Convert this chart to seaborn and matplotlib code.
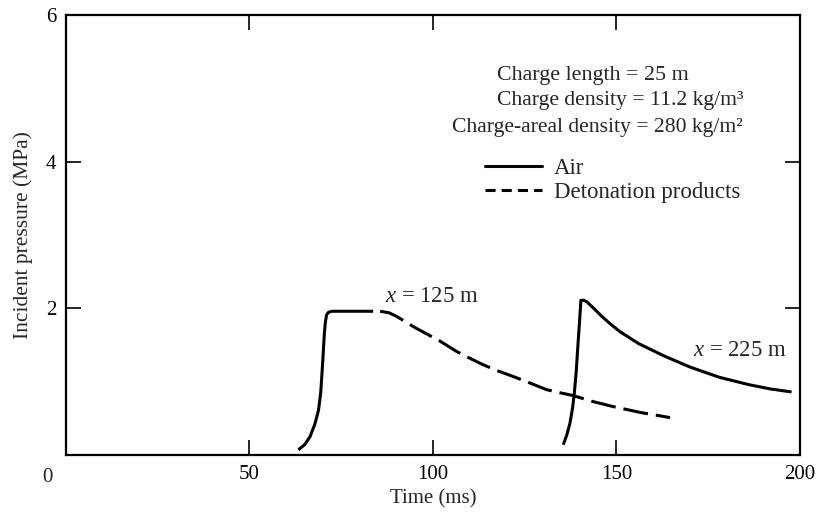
import matplotlib
matplotlib.use("Agg")
import matplotlib.pyplot as plt
from matplotlib.lines import Line2D
import seaborn as sns
import pandas as pd

# ---- data ----
air1_time = [63.3, 65.0, 66.5, 67.8, 68.8, 69.4, 69.7, 70.1, 70.4, 70.7, 71.0, 71.5, 72.4, 75.0, 78.0, 81.0, 83.7]
air1_pres = [0.07, 0.14, 0.25, 0.42, 0.61, 0.85, 1.07, 1.40, 1.66, 1.82, 1.91, 1.945, 1.96, 1.96, 1.96, 1.96, 1.96]

det_time = [85.6, 88.0, 90.1, 92.4, 95.0, 98.7, 102.0, 106.5, 110.0, 113.7, 117.5, 121.9, 126.5, 131.0, 134.5, 138.2, 143.5, 149.1, 156.5, 164.6]
det_pres = [1.96, 1.94, 1.89, 1.82, 1.74, 1.64, 1.55, 1.41, 1.32, 1.23, 1.15, 1.07, 0.98, 0.89, 0.85, 0.81, 0.73, 0.66, 0.58, 0.51]

air2_time = [135.5, 136.5, 137.3, 138.0, 138.5, 139.0, 139.4, 139.9, 140.3, 141.0, 141.9, 144.0, 146.0, 148.5, 151.0, 156.0, 163.0, 170.0, 178.0, 186.0, 192.0, 197.7]
air2_pres = [0.14, 0.28, 0.43, 0.63, 0.84, 1.12, 1.43, 1.80, 2.11, 2.11, 2.09, 1.99, 1.89, 1.78, 1.68, 1.52, 1.35, 1.20, 1.06, 0.96, 0.90, 0.86]

x_ticks = [0, 50, 100, 150, 200]
x_labels = ["", "50", "100", "150", "200"]
y_ticks = [0, 2, 4, 6]
y_labels = ["", "2", "4", "6"]

info_lines = ["Charge length = 25 m",
              "Charge density = 11.2 kg/m³",
              "Charge-areal density = 280 kg/m²"]
legend_labels = ["Air", "Detonation products"]
curve_labels = ["$x$ = 125 m", "$x$ = 225 m"]

sns.set_theme(style="ticks")
plt.rcParams["font.family"] = ["Liberation Serif", "DejaVu Serif"]
plt.rcParams["mathtext.fontset"] = "custom"
plt.rcParams["mathtext.rm"] = "Liberation Serif"
plt.rcParams["mathtext.it"] = "Liberation Serif:italic"

fig = plt.figure(figsize=(8.2, 5.16), dpi=100)
ax = fig.add_axes([66 / 820, 61 / 516, 734 / 820, 440 / 516])

lw = 2.2
df1 = pd.DataFrame({"t": air1_time, "p": air1_pres})
df2 = pd.DataFrame({"t": det_time, "p": det_pres})
df3 = pd.DataFrame({"t": air2_time, "p": air2_pres})
sns.lineplot(data=df1, x="t", y="p", ax=ax, color="black", lw=lw, sort=False, estimator=None)
sns.lineplot(data=df2, x="t", y="p", ax=ax, color="black", lw=lw, sort=False, estimator=None)
ax.lines[-1].set_dashes((8.2, 2.6))
sns.lineplot(data=df3, x="t", y="p", ax=ax, color="black", lw=lw, sort=False, estimator=None)
for ln in ax.lines:
    ln.set_solid_capstyle("butt")
    ln.set_dash_capstyle("butt")

ax.set_xlim(0, 200)
ax.set_ylim(0, 6)
ax.set_xticks(x_ticks)
ax.set_xticklabels(x_labels)
ax.set_yticks(y_ticks)
ax.set_yticklabels(y_labels)
ax.tick_params(direction="in", length=11, width=1.2, top=True, right=True,
               labelsize=15, pad=7, color="black", labelcolor="black")
for s in ax.spines.values():
    s.set_visible(True)
    s.set_linewidth(1.6)
    s.set_color("black")

ax.set_xlabel("Time (ms)", fontsize=15, labelpad=4)
ax.set_ylabel("Incident pressure (MPa)", fontsize=15.5, labelpad=9)

# corner zero label shared by both axes
ax.annotate("0", xy=(0, 0), xycoords="axes fraction", xytext=(-19, -22),
            textcoords="offset pixels", ha="center", va="center", fontsize=15)

# info text
ax.text(117.4, 5.18, info_lines[0], fontsize=15.8, ha="left", va="center")
ax.text(117.4, 4.84, info_lines[1], fontsize=15.6, ha="left", va="center")
ax.text(105.2, 4.46, info_lines[2], fontsize=15.6, ha="left", va="center")

# curve labels
ax.text(86.9, 2.16, curve_labels[0], fontsize=16.4, ha="left", va="center")
ax.text(170.9, 1.43, curve_labels[1], fontsize=16.4, ha="left", va="center")

# legend
handles = [Line2D([], [], color="black", lw=lw),
           Line2D([], [], color="black", lw=lw, dashes=(3.3, 2.0))]
ax.legend(handles, legend_labels, loc="center left",
          bbox_to_anchor=((485 - 66) / 734, (455 - 180.5) / 440),
          frameon=False, fontsize=16.5, handlelength=2.49, handletextpad=0.5,
          labelspacing=0.1, borderpad=0, borderaxespad=0)

fig.savefig("out.png", dpi=100)
